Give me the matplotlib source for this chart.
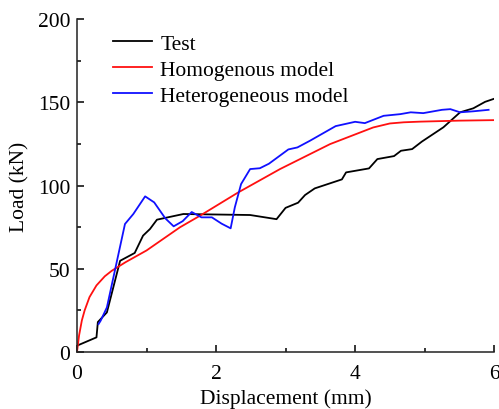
import numpy as np
import matplotlib.pyplot as plt
from matplotlib.ticker import MultipleLocator

plt.rcParams['font.family'] = ['Liberation Serif', 'DejaVu Serif']

# Test curve
d_test = [0, 0.28, 0.30, 0.43, 0.62, 0.83, 0.95, 1.05, 1.15, 1.53, 2.49, 2.87, 3.0,
          3.18, 3.28, 3.42, 3.81, 3.87, 4.2, 4.32, 4.56, 4.66, 4.82, 4.96, 5.27,
          5.51, 5.70, 5.87, 5.99]
L_test = [3.8, 8.8, 18, 23.8, 54.8, 59.5, 69.9, 73.9, 79.5, 82.9, 82.3, 79.8, 86.6,
          89.7, 94.3, 98.3, 103.7, 107.9, 110.3, 115.9, 117.7, 120.9, 121.9, 126.4, 135,
          144, 146.4, 150.3, 152]

# Homogenous model
d_hom = [0, 0.03, 0.07, 0.11, 0.18, 0.28, 0.4, 0.5, 0.7, 1.0, 1.48, 1.77, 2.32, 2.92,
         3.64, 4.26, 4.5, 4.7, 4.94, 5.5, 6.0]
L_hom = [0, 10, 19, 25, 33, 40, 45.5, 48.8, 54, 61, 74.9, 81.9, 95.9, 109.9,
         124.9, 134.9, 137.3, 138, 138.4, 139, 139.3]

# Heterogeneous model
d_het = [0.31, 0.34, 0.43, 0.69, 0.81, 0.98, 1.11, 1.27, 1.39, 1.52, 1.65, 1.79, 1.94,
         2.08, 2.21, 2.27, 2.36, 2.49, 2.63, 2.76, 3.04, 3.17, 3.35, 3.72, 4.0, 4.14,
         4.41, 4.65, 4.80, 4.98, 5.25, 5.37, 5.51, 5.70, 5.92]
L_het = [16.8, 18.8, 26.8, 76.9, 82.9, 93.5, 89.9, 80.3, 75.5, 78.6, 84.1, 80.9, 80.9,
         77.1, 74.3, 86.9, 100.9, 109.9, 110.4, 113.1, 121.7, 122.9, 126.9, 135.7, 138.3, 137.5,
         141.9, 142.9, 144, 143.5, 145.5, 145.9, 144, 144.6, 145.5]

fig = plt.figure(figsize=(4.99, 4.10), dpi=100)
ax = fig.add_axes([0.1543, 0.139, 0.836, 0.812])

ax.plot(d_test, L_test, color='black', linewidth=1.3, label='Test')
ax.plot(d_hom, L_hom, color='#ff1010', linewidth=1.3, label='Homogenous model')
ax.plot(d_het, L_het, color='#1010ff', linewidth=1.3, label='Heterogeneous model')

ax.set_xlim(0, 6)
ax.set_ylim(0, 200)
ax.xaxis.set_major_locator(MultipleLocator(2))
ax.xaxis.set_minor_locator(MultipleLocator(1))
ax.yaxis.set_major_locator(MultipleLocator(50))
ax.yaxis.set_minor_locator(MultipleLocator(25))

for side in ['top', 'right']:
    ax.spines[side].set_visible(False)
for side in ['left', 'bottom']:
    ax.spines[side].set_linewidth(1.1)
    ax.spines[side].set_color('#222222')

ax.tick_params(which='major', direction='in', length=5, width=1.1, labelsize=15.5, pad=5)
ax.tick_params(which='minor', direction='in', length=3, width=1.1)
ax.tick_params(axis='x', which='major', pad=8.5)

ax.set_xlabel('Displacement (mm)', fontsize=15.5, labelpad=4)
ax.set_ylabel('Load (kN)', fontsize=15.5, labelpad=6)

ax.legend(loc='upper left', frameon=False, fontsize=15.5, handlelength=1.8,
          handletextpad=0.4, labelspacing=0.28, bbox_to_anchor=(0.04, 1.015))

fig.savefig('out.png', dpi=100)
